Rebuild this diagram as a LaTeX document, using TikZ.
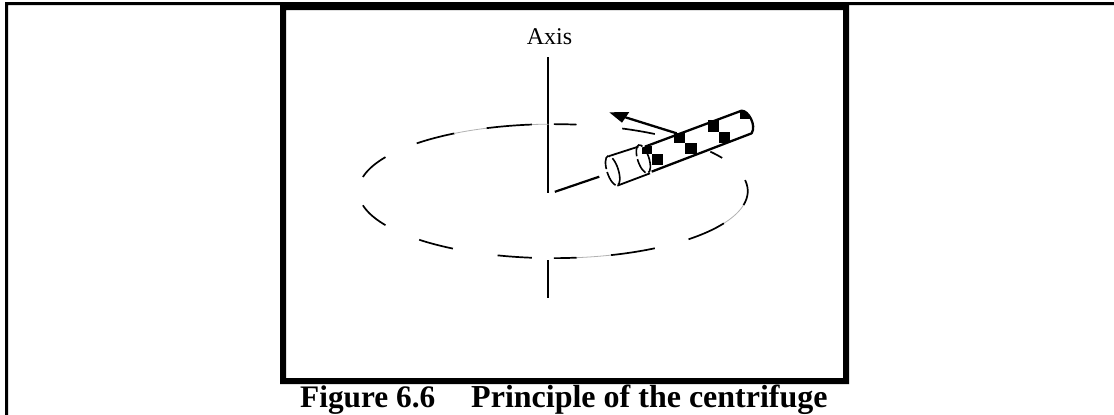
\documentclass[tikz,border=0pt]{standalone}
\usepackage{fontspec}
\setmainfont{Liberation Serif}
\tikzset{
  ring/.style={line width=1.7pt,black},
  ringfaint/.style={line width=0.8pt,black!30},
  tubeline/.style={line width=1.8pt,black,line join=round},
  shaft/.style={line width=1.9pt,black},
  cell/.style={fill=black,draw=none},
  rim/.style={line width=1.6pt,black,dash pattern=on 16pt off 3pt}
}
\newcommand{\ringarc}[3]{\draw[#1] plot[domain=#2:#3,samples=24,smooth,variable=\t] ({633+578*cos(\t)},{241-199*sin(\t)});}
\begin{document}
\begin{tikzpicture}[x=1pt,y=-1pt]
\useasboundingbox (0,0) rectangle (1114,415);
\fill[white] (0,0) rectangle (1114,415);
% page border
\fill[black] (5,415) -- (5,2) -- (1114,2) -- (1114,5) -- (8,5) -- (8,415) -- cycle;
% figure frame
\fill[black,even odd rule] (280,2) rectangle (849,384) (286,10) rectangle (843,378);
% texts
\node[anchor=base,inner sep=0,font=\fontsize{24}{24}\selectfont] (axislabel) at (549.5,44) {Axis};
\node[anchor=base west,inner sep=0,font=\fontsize{31.3}{32}\selectfont\bfseries] (caption) at (300,407) {Figure 6.6\hspace{36pt}{\fontsize{32}{32}\selectfont Principle of the centrifuge}};
% axis
\draw[shaft] (548,57) -- (548,192.5);
\draw[shaft] (548,260) -- (548,298);
% ring
\begin{scope}[shift={(340,110)},x=0.3367pt,y=-0.3367pt]
\ringarc{ring}{167.8}{149.5}
\ringarc{ring}{134.5}{120.5}
\ringarc{ringfaint}{120.5}{110}
\ringarc{ring}{110}{96.3}
\ringarc{ringfaint}{96.3}{91.3}
\ringarc{ring}{89.8}{83.1}
\ringarc{ring}{69.2}{58.5}
\ringarc{ring}{36.1}{29.7}
\ringarc{ring}{9.5}{-12}
\ringarc{ringfaint}{-12}{-28.7}
\ringarc{ring}{-28.7}{-45.9}
\ringarc{ring}{-58.5}{-72.7}
\ringarc{ringfaint}{-72.7}{-83.1}
\ringarc{ring}{-83.1}{-89.8}
\ringarc{ring}{-96.3}{-106.6}
\ringarc{ring}{-121}{-133.5}
\ringarc{ring}{-149.5}{-167.8}
\draw[line width=2.2pt] (638,243) -- (770,198);
\end{scope}
% tube, in the coordinates of a 3x crop
\begin{scope}[shift={(560,90)},x=0.3333pt,y=-0.3333pt]
\begin{scope}
\clip (232,178) -- (545,60) .. controls (565,60) and (590,105) .. (577,130) -- (272,247) -- cycle;
\fill[cell] (245,168) rectangle (276,192);
\fill[cell] (540,58) rectangle (574,88);
\end{scope}
\fill[cell] (276,192) rectangle (309,225);
\fill[cell] (342,128) rectangle (376,158);
\fill[cell] (376,158) rectangle (411,191);
\fill[cell] (444,90) rectangle (478,125);
\fill[cell] (478,125) rectangle (511,158);
\draw[line width=2.3pt,line join=round] (255,170) -- (545,62) .. controls (565,62) and (590,105) .. (575,130) -- (275,245);
\draw[tubeline] (148,198) -- (235,170);
\draw[tubeline] (172,287) -- (270,250);
\draw[rim,rotate around={18:(158,242)}] (158,242) circle[x radius=17,y radius=46];
\draw[rim,rotate around={18:(250,207)}] (250,207) circle[x radius=17,y radius=44];
\coordinate (arrowstart) at (350,130);
\coordinate (arrowneck) at (190,80);
\draw[line width=2.3pt] (arrowstart) -- (arrowneck);
\fill[black] (148,67) -- (208,66) -- (186,98) -- cycle;
\end{scope}
\end{tikzpicture}
\end{document}
